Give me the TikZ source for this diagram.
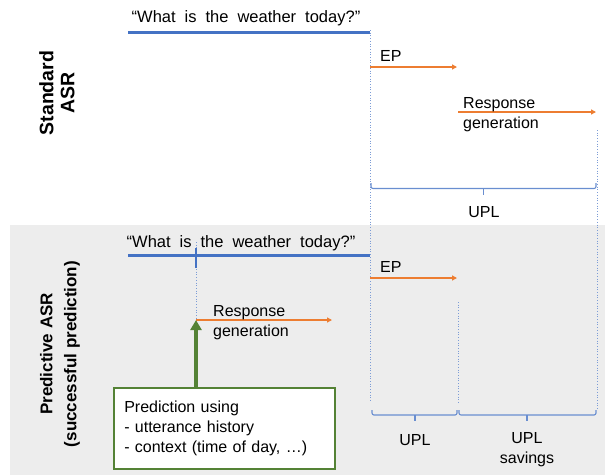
\documentclass[tikz,border=0pt]{standalone}
\usepackage{fontspec}
\setmainfont{Liberation Sans}
\usetikzlibrary{positioning,arrows.meta}
\definecolor{uttblue}{RGB}{68,114,196}
\definecolor{steporange}{RGB}{237,125,49}
\definecolor{predgreen}{RGB}{84,130,53}
\definecolor{panelgray}{RGB}{237,237,237}
\newcommand{\wideq}[1]{{\spaceskip=9pt\relax #1}}

\begin{document}
\begin{tikzpicture}[x=1pt,y=-1pt,font=\fontsize{16}{20}\selectfont]
\tikzstyle{utter line}=[uttblue,line width=3]
\tikzstyle{step arrow}=[steporange,line width=1.3,-{Triangle[length=5,width=5]}]
\tikzstyle{time line}=[uttblue!70,dotted,line width=0.7]
\tikzstyle{span brace}=[uttblue!80,line width=1.1,rounded corners=2]
\tikzstyle{quote text}=[inner sep=0,font=\fontsize{16.5}{20}\selectfont]
\tikzstyle{step text}=[inner sep=0,align=left,anchor=north west]
\tikzstyle{row label}=[rotate=90,align=center]
\useasboundingbox (0,0) rectangle (605,475);
\fill[panelgray] (10,225) rectangle (605,475);
% standard ASR
\node[row label,font=\fontsize{19.5}{21}\selectfont\bfseries] (std) at (57,93) {Standard\\ASR};
\node[quote text] (q1) at (246,18) {\wideq{“What is the weather today?”}};
\coordinate (u1s) at (128,32);
\coordinate (u1e) at (370,32);
\draw[utter line] (u1s) -- (u1e);
\coordinate (end1top) at (370,30);
\coordinate (end1bot) at (370,402);
\draw[time line] (end1top) -- (end1bot);
\coordinate (ep1s) at (370,67);
\coordinate (ep1e) at (457,67);
\draw[step arrow] (ep1s) -- (ep1e);
\node[step text] (ep1) at (380,50.5) {EP};
\coordinate (rg1s) at (458,112);
\coordinate (rg1e) at (596,112);
\draw[step arrow] (rg1s) -- (rg1e);
\node[step text] (rg1) at (463,97.5) {Response\\generation};
\coordinate (resp1top) at (597,130);
\coordinate (resp1bot) at (597,410);
\draw[time line] (resp1top) -- (resp1bot);
\coordinate (b1l) at (371,183);
\coordinate (b1m) at (483.5,188.5);
\coordinate (b1r) at (596,183);
\draw[span brace] (b1l) |- (b1m) -| (b1r);
\draw[span brace] (b1m) -- ++(0,6);
\node (upl1) at (484,212) {UPL};
% predictive ASR
\node[row label,font=\fontsize{17}{24}\selectfont\bfseries] (pred) at (60,354) {Predictive ASR\\(successful prediction)};
\node[quote text] (q2) at (241,243) {\wideq{“What is the weather today?”}};
\coordinate (u2s) at (128,255);
\coordinate (u2e) at (370,255);
\draw[utter line] (u2s) -- (u2e);
\coordinate (hyptop) at (196,242);
\coordinate (hypbot) at (196,318);
\draw[time line] (hyptop) -- (hypbot);
\draw[uttblue,line width=1.5] (196,248) -- (196,268);
\coordinate (ep2s) at (370,278);
\coordinate (ep2e) at (457,278);
\draw[step arrow] (ep2s) -- (ep2e);
\node[step text] (ep2) at (380,261.5) {EP};
\coordinate (rg2s) at (196,320);
\coordinate (rg2e) at (332,320);
\draw[step arrow] (rg2s) -- (rg2e);
\node[step text] (rg2) at (213,305.5) {Response\\generation};
\node[draw=predgreen,fill=white,line width=1.5,anchor=north west,align=left,
  text width=200,inner xsep=10.5,minimum height=81] (predbox) at (113,387)
  {Prediction using\\- utterance history\\- context (time of day, …)};
\draw[predgreen,line width=4,-{Triangle[length=10,width=11]}] (predbox.north -| rg2s) -- (rg2s);
\coordinate (ep2top) at (458,302);
\coordinate (ep2bot) at (458,402);
\draw[time line] (ep2top) -- (ep2bot);
\coordinate (b2l) at (372,410);
\coordinate (b2m) at (415,415);
\coordinate (b2r) at (457,410);
\draw[span brace] (b2l) |- (b2m) -| (b2r);
\draw[span brace] (b2m) -- ++(0,6);
\coordinate (b3l) at (459,410);
\coordinate (b3m) at (527,415);
\coordinate (b3r) at (596,410);
\draw[span brace] (b3l) |- (b3m) -| (b3r);
\draw[span brace] (b3m) -- ++(0,6);
\node (upl2) at (415,440) {UPL};
\node[align=center] (save) at (527,450) {UPL\\savings};
\end{tikzpicture}
\end{document}
